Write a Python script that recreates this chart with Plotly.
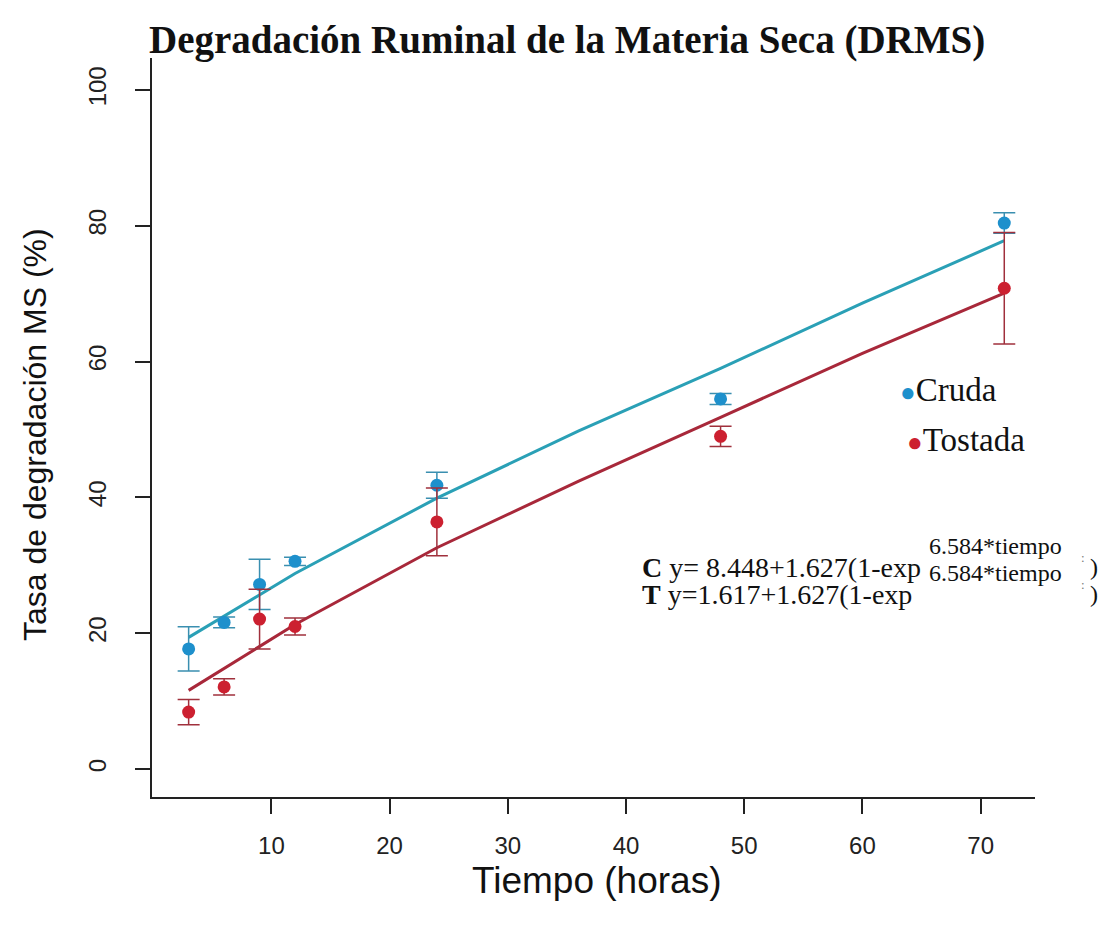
import plotly.graph_objects as go

# Observed data
tiempo = [3, 6, 9, 12, 24, 48, 72]
cruda_mean = [17.7, 21.6, 27.2, 30.6, 41.8, 54.5, 80.4]
cruda_sd = [3.25, 0.8, 3.7, 0.6, 1.9, 0.8, 1.5]
tostada_mean = [8.4, 12.1, 22.1, 21.0, 36.4, 49.0, 70.8]
tostada_sd = [1.85, 1.2, 4.4, 1.25, 5.0, 1.5, 8.2]

# Fitted curves
fit_t = [3, 6, 9, 12, 24, 36, 48, 60, 72]
cruda_fit = [19.4, 22.5, 25.6, 28.8, 39.9, 49.8, 59.0, 68.6, 77.8]
tostada_fit = [11.6, 14.8, 18.0, 21.3, 32.6, 42.4, 51.8, 61.2, 70.1]

x_ticks = [10, 20, 30, 40, 50, 60, 70]
y_ticks = [0, 20, 40, 60, 80, 100]

C_LINE = "#2aa0b6"
C_PT = "#1e90cc"
C_ERR = "#3a8fb0"
T_LINE = "#a8283a"
T_PT = "#cc2030"
T_ERR = "#a0303c"

W, H = 1094, 909
ML, MR, MT, MB = 144, 67, 50, 120
PW, PH = W - ML - MR, H - MT - MB


def px(X):  # page pixel -> paper x
    return (X - 8 - ML) / PW


def py(Y):  # page pixel -> paper y
    return (H - MB - (Y - 8)) / PH


fig = go.Figure()
fig.add_trace(go.Scatter(x=fit_t, y=cruda_fit, mode="lines",
                         line=dict(color=C_LINE, width=3), showlegend=False))
fig.add_trace(go.Scatter(x=fit_t, y=tostada_fit, mode="lines",
                         line=dict(color=T_LINE, width=3), showlegend=False))
fig.add_trace(go.Scatter(x=tiempo, y=cruda_mean, mode="markers",
                         marker=dict(color=C_PT, size=13),
                         error_y=dict(type="data", array=cruda_sd, color=C_ERR,
                                      thickness=1.5, width=11),
                         showlegend=False))
fig.add_trace(go.Scatter(x=tiempo, y=tostada_mean, mode="markers",
                         marker=dict(color=T_PT, size=13),
                         error_y=dict(type="data", array=tostada_sd, color=T_ERR,
                                      thickness=1.5, width=11),
                         showlegend=False))

serif = "Liberation Serif, Times New Roman, serif"
sans = "Liberation Sans, Arial, sans-serif"

fig.update_layout(
    width=W, height=H,
    margin=dict(l=ML, r=MR, t=MT, b=MB),
    plot_bgcolor="white", paper_bgcolor="white",
    xaxis=dict(range=[-0.1, 74.6], tickvals=x_ticks, showgrid=False, zeroline=False,
               showline=True, linecolor="#222", linewidth=1.5,
               ticks="outside", ticklen=15, tickwidth=1.5, tickcolor="#222",
               ticklabelstandoff=11,
               tickfont=dict(family=sans, size=24, color="#222")),
    yaxis=dict(range=[-4.1, 104.7], tickvals=y_ticks, showgrid=False, zeroline=False,
               showline=True, linecolor="#222", linewidth=1.5,
               ticks="outside", ticklen=15, tickwidth=1.5, tickcolor="#222",
               tickangle=-90, ticklabelstandoff=20,
               tickfont=dict(family=sans, size=24, color="#222")),
)

# Title and axis titles
fig.add_annotation(x=px(567), y=py(40), xref="paper", yref="paper",
                   xanchor="center", yanchor="middle", showarrow=False,
                   text="<b>Degradación Ruminal de la Materia Seca (DRMS)</b>",
                   font=dict(family=serif, size=39, color="#111"))
fig.add_annotation(x=px(596), y=py(880), xref="paper", yref="paper",
                   xanchor="center", yanchor="middle", showarrow=False,
                   text="Tiempo (horas)",
                   font=dict(family=sans, size=37, color="#111"))
fig.add_annotation(x=px(35), y=py(435), xref="paper", yref="paper",
                   xanchor="center", yanchor="middle", showarrow=False, textangle=-90,
                   text="Tasa de degradación MS (%)",
                   font=dict(family=sans, size=32, color="#111"))

# Legend as annotations
fig.add_annotation(x=px(898), y=py(390), xref="paper", yref="paper",
                   xanchor="left", yanchor="middle", showarrow=False,
                   text="<span style='font-size:26px;color:%s'>●</span>Cruda" % C_PT,
                   font=dict(family=serif, size=33, color="#111"))
fig.add_annotation(x=px(905), y=py(440), xref="paper", yref="paper",
                   xanchor="left", yanchor="middle", showarrow=False,
                   text="<span style='font-size:26px;color:%s'>●</span>Tostada" % T_PT,
                   font=dict(family=serif, size=33, color="#111"))

# Model equations
eq_base = ["<b>C</b> y= 8.448+1.627(1-exp", "<b>T</b> y=1.617+1.627(1-exp"]
eq_sup = "6.584*tiempo"
eq_rows = [567, 594]
for base, yrow in zip(eq_base, eq_rows):
    fig.add_annotation(x=px(640), y=py(yrow), xref="paper", yref="paper",
                       xanchor="left", yanchor="middle", showarrow=False,
                       text=base, font=dict(family=serif, size=28, color="#111"))
    fig.add_annotation(x=px(927), y=py(yrow - 21), xref="paper", yref="paper",
                       xanchor="left", yanchor="middle", showarrow=False,
                       text=eq_sup, font=dict(family=serif, size=24, color="#111"))
    fig.add_annotation(x=px(1079), y=py(yrow - 10), xref="paper", yref="paper",
                       xanchor="left", yanchor="middle", showarrow=False,
                       text=":", font=dict(family=serif, size=13, color="#777"))
    fig.add_annotation(x=px(1088), y=py(yrow), xref="paper", yref="paper",
                       xanchor="left", yanchor="middle", showarrow=False,
                       text=")", font=dict(family=serif, size=24, color="#111"))

fig.write_html("out.html")
